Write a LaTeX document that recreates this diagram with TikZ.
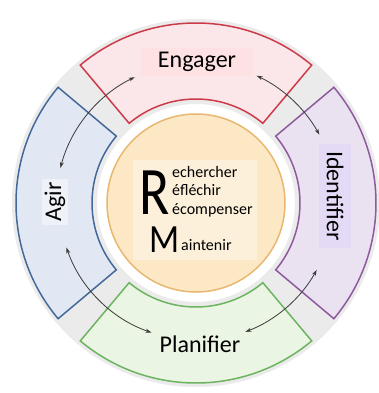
\documentclass[tikz,border=0pt]{standalone}
\usepackage{fontspec}
\setmainfont{Carlito}
\usetikzlibrary{arrows.meta}
\definecolor{redB}{HTML}{CC3B4A}
\definecolor{redF}{HTML}{FBE6EA}
\definecolor{redL}{HTML}{FDE1E3}
\definecolor{bluB}{HTML}{43699A}
\definecolor{bluF}{HTML}{E2E8F3}
\definecolor{bluL}{HTML}{EEF2F8}
\definecolor{purB}{HTML}{8E5A9E}
\definecolor{purF}{HTML}{EAE1F1}
\definecolor{purL}{HTML}{E4DAF5}
\definecolor{greB}{HTML}{6CB460}
\definecolor{greF}{HTML}{EBF5E3}
\definecolor{oraB}{HTML}{E8B870}
\definecolor{oraF}{HTML}{FDE8C6}
\definecolor{oraL}{HTML}{FDF0DA}
\definecolor{ringgray}{HTML}{EBEBEB}
\definecolor{arr}{HTML}{3A3A3A}
\tikzset{
  segline/.style={line width=1.5pt, line join=miter},
  lbl/.style={font=\fontsize{24}{28}\selectfont, inner sep=3pt},
  twoway/.style={draw=arr, line width=0.8pt, {Stealth[length=6pt,width=4pt]}-{Stealth[length=6pt,width=4pt]}},
  small/.style={font=\fontsize{16}{18}\selectfont, anchor=base west, inner sep=0pt, text height=10pt, text depth=1pt},
}
\newcommand{\ringseg}[4]{% start, end, border, fill
  \draw[segline, draw=#3, fill=#4] (#1:104) arc[start angle=#1, end angle=#2, radius=104]
    -- (#2:180) arc[start angle=#2, end angle=#1, radius=180] -- cycle;}
\begin{document}
\begin{tikzpicture}[x=1pt,y=1pt]
\useasboundingbox (-196,-190) rectangle (183,203);
\fill[white] (-196,-190) rectangle (183,203);
% faint ring behind the segments
\fill[ringgray, even odd rule] (0,0) circle[radius=184] (0,0) circle[radius=99];
% segments
\ringseg{50}{130}{redB}{redF}
\ringseg{140}{220}{bluB}{bluF}
\ringseg{230}{310}{greB}{greF}
\ringseg{-40}{40}{purB}{purF}
% centre
\node[circle, minimum size=178pt, draw=oraB, line width=1.5pt, fill=oraF] (core) at (0,0) {};
\fill[oraL] (-63,43) rectangle (61,-57);
% labels
\node[lbl, fill=redL, minimum width=112pt, minimum height=28pt] (eng) at (1,141) {Engager};
\node[lbl, fill=bluL, rotate=90] (agir) at (-141,1) {Agir};
\node[lbl, fill=purL, rotate=-90, minimum width=104pt, minimum height=32pt] (ident) at (139,7) {Identifier};
\node[lbl, fill=greF] (plan) at (4,-141) {Planifier};
% centre text
\node[anchor=base west, inner sep=0pt, text height=43pt, text depth=0pt, font=\fontsize{68}{70}\selectfont] (bigR) at (-57,-12) {\scalebox{0.82}[1]{R}};
\node[small] (l1) at (-24,25) {echercher};
\node[small] (l2) at (-24,7) {éfléchir};
\node[small] (l3) at (-24,-12) {écompenser};
\node[anchor=base west, inner sep=0pt, text height=25pt, text depth=0pt, font=\fontsize{40}{42}\selectfont] (bigM) at (-47,-49) {\scalebox{0.88}[1]{M}};
\node[small] (l4) at (-15,-47) {aintenir};
% arrows
\coordinate (a1s) at (116:140);
\coordinate (a2s) at (29:141);
\coordinate (a3s) at (199:137);
\coordinate (a4s) at (-69:138);
\draw[twoway] (a1s) arc[start angle=116, end angle=165.5, radius=140];
\draw[twoway] (a2s) arc[start angle=29, end angle=64.5, radius=141];
\draw[twoway] (a3s) arc[start angle=199, end angle=251, radius=137];
\draw[twoway] (a4s) arc[start angle=-69, end angle=-29, radius=138];
\end{tikzpicture}
\end{document}
